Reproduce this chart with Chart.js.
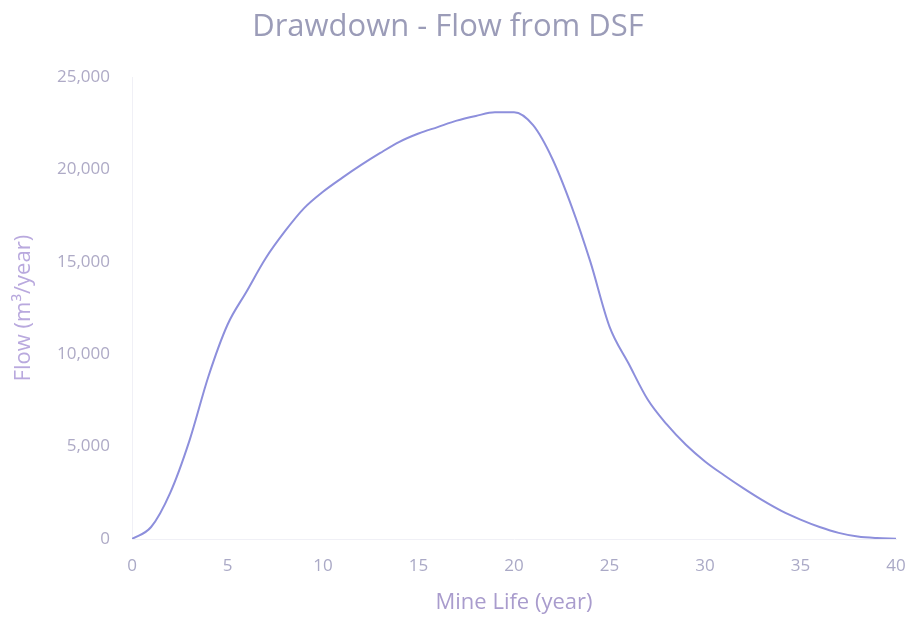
<!DOCTYPE html>
<html>
<head>
<meta charset="utf-8">
<script src="https://cdn.jsdelivr.net/npm/chart.js@4"></script>
<style>
html,body{margin:0;padding:0;background:#fff;}
#wrap{width:910px;height:619px;}
</style>
</head>
<body>
<div id="wrap"><canvas id="c" width="910" height="619"></canvas></div>
<script>
const years = [0,1,2,3,4,5,6,7,8,9,10,11,12,13,14,15,16,17,18,19,20,21,22,23,24,25,26,27,28,29,30,31,32,33,34,35,36,37,38,39,40];
const flow = [0,650,2500,5300,8800,11600,13400,15200,16650,17900,18800,19550,20250,20900,21500,21950,22300,22650,22900,23100,23100,22400,20600,18050,15000,11500,9500,7550,6200,5100,4200,3450,2750,2100,1520,1050,650,330,130,50,20];
const yTicks = [0,5000,10000,15000,20000,25000];
const xTicks = [0,5,10,15,20,25,30,35,40];
const titleText = 'Drawdown - Flow from DSF';
const xTitle = 'Mine Life (year)';
const yTitle = 'Flow (m³/year)';

const FONT = '"Open Sans", Lato, sans-serif';
const pts = years.map((x,i)=>({x:x,y:flow[i]}));

new Chart(document.getElementById('c'), {
  type: 'line',
  data: { datasets: [{
    data: pts,
    borderColor: '#8d8fdc',
    borderWidth: 2,
    pointRadius: 0,
    cubicInterpolationMode: 'monotone',
    fill: false
  }]},
  options: {
    responsive: false,
    animation: false,
    layout: { padding: { left: 0, right: 14, top: 0, bottom: 0 } },
    plugins: {
      legend: { display: false },
      tooltip: { enabled: false },
      title: {
        display: true,
        text: titleText,
        color: '#9b9cb8',
        font: { family: FONT, size: 31, weight: 'normal' },
        padding: { top: 9, bottom: 31 }
      }
    },
    scales: {
      x: {
        type: 'linear',
        min: 0, max: 40,
        afterBuildTicks: s => { s.ticks = xTicks.map(v=>({value:v})); },
        grid: { display: true, drawOnChartArea: false, drawTicks: true, tickLength: 14, tickColor: 'rgba(0,0,0,0)' },
        border: { display: true, color: '#f0f0f6' },
        ticks: { color: '#aaa9c6', padding: 3, font: { family: FONT, size: 17 } },
        title: { display: true, text: xTitle, color: '#a99ccd', font: { family: FONT, size: 22 }, padding: { top: 4, bottom: 3 } },
        afterFit: s => { s.height = 80; }
      },
      y: {
        min: 0, max: 25000,
        afterBuildTicks: s => { s.ticks = yTicks.map(v=>({value:v})); },
        grid: { display: true, drawOnChartArea: false, drawTicks: true, tickLength: 19, tickColor: 'rgba(0,0,0,0)' },
        border: { display: true, color: '#f0f0f6' },
        ticks: {
          color: '#aeaac6', padding: 3, font: { family: FONT, size: 17 },
          callback: v => v.toLocaleString('en-US')
        },
        title: { display: true, text: yTitle, color: '#b9a9de', font: { family: FONT, size: 22 }, padding: { top: 11, bottom: 4 } },
        afterFit: s => { s.width = 132; }
      }
    }
  }
});
</script>
</body>
</html>
